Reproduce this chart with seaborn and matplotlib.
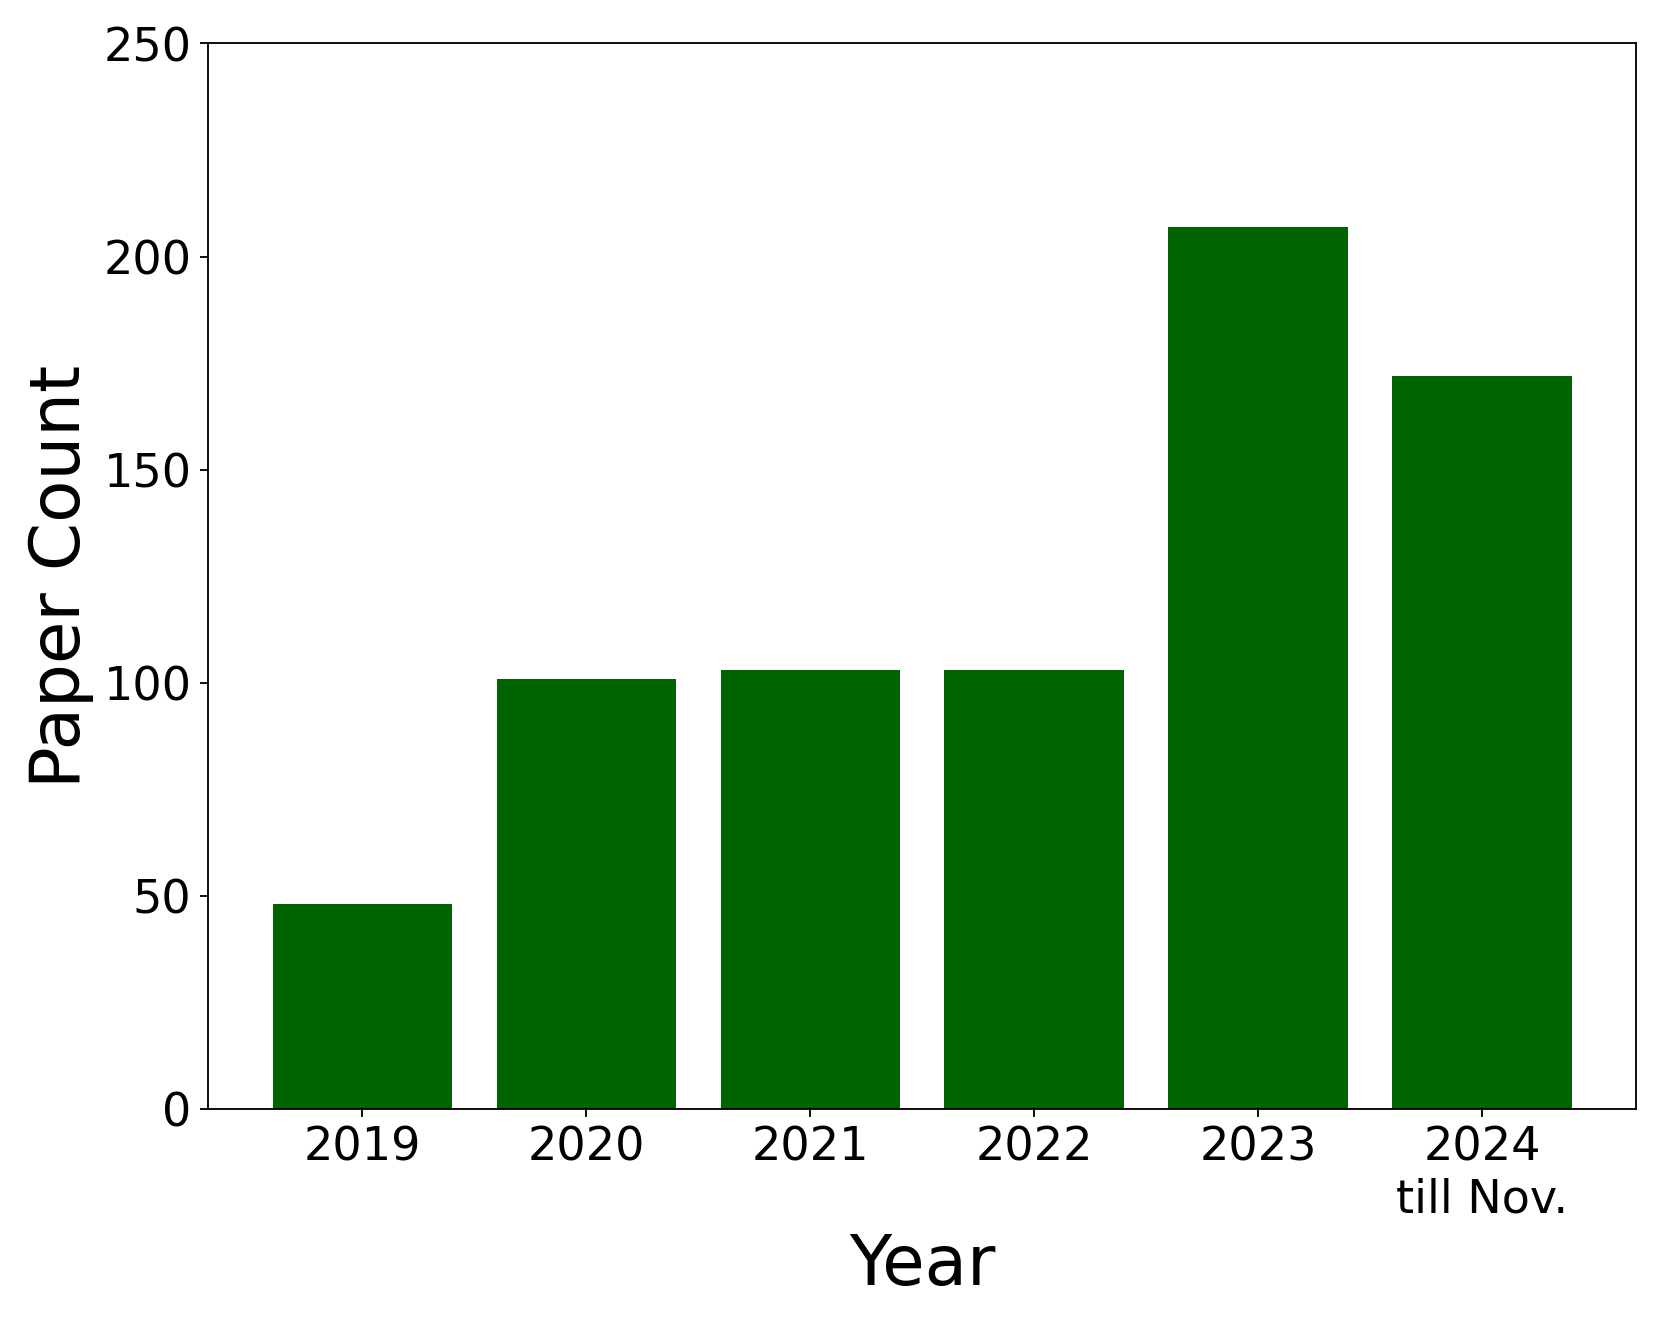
import matplotlib
matplotlib.use("Agg")
import matplotlib.pyplot as plt
import seaborn as sns
import pandas as pd

years = ["2019", "2020", "2021", "2022", "2023", "2024\ntill Nov."]
counts = [48, 101, 103, 103, 207, 172]

df = pd.DataFrame({"Year": years, "Paper Count": counts})

DPI = 166
fig, ax = plt.subplots(figsize=(1661.4 / DPI, 1329.4 / DPI), dpi=DPI)
sns.barplot(data=df, x="Year", y="Paper Count", color="#006400", saturation=1,
            width=0.8, linewidth=0, ax=ax)
ax.set_xlim(-0.69, 5.69)
ax.set_ylim(0, 250)
ax.set_yticks([0, 50, 100, 150, 200, 250])
ax.tick_params(axis="both", labelsize=20)
ax.set_xlabel("Year", fontsize=30)
ax.set_ylabel("Paper Count", fontsize=30)
fig.subplots_adjust(left=0.125, right=0.985, top=0.967, bottom=0.1655)
fig.savefig("out.png", dpi=DPI)
